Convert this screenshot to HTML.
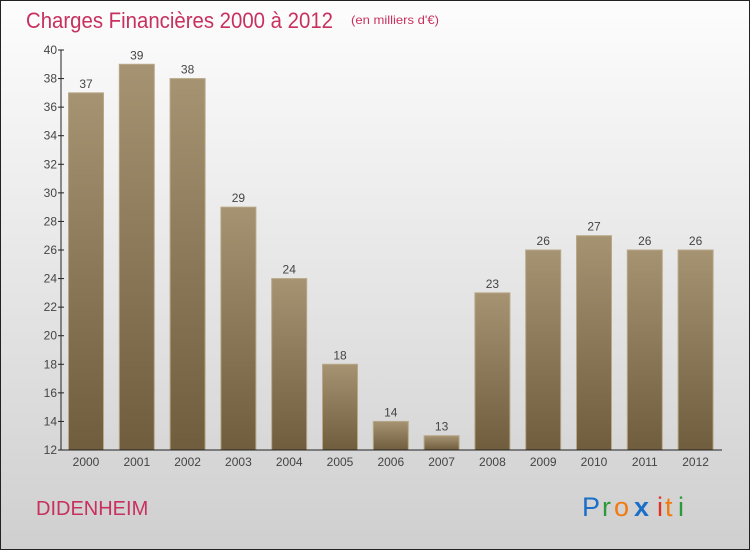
<!DOCTYPE html>
<html><head><meta charset="utf-8"><style>
body{margin:0;width:750px;height:550px;overflow:hidden;font-family:"Liberation Sans",sans-serif}
</style></head><body>
<svg id="chart" width="750" height="550" xmlns="http://www.w3.org/2000/svg">
<defs>
<linearGradient id="bg" x1="0" y1="0" x2="0" y2="1"><stop offset="0" stop-color="#fdfdfd"/><stop offset="1" stop-color="#cfcfcf"/></linearGradient>
<linearGradient id="bar" x1="0" y1="0" x2="0" y2="1"><stop offset="0" stop-color="#a59372"/><stop offset="1" stop-color="#6f5d3e"/></linearGradient>
</defs>
<rect x="0.5" y="0.5" width="749" height="549" fill="url(#bg)" stroke="#222"/>
<text x="26" y="28" font-size="22" fill="#c8305f" textLength="307" lengthAdjust="spacingAndGlyphs">Charges Financières 2000 à 2012</text>
<text x="351" y="24" font-size="12" fill="#c8305f" textLength="88" lengthAdjust="spacingAndGlyphs">(en milliers d'€)</text>
<g id="plot"></g>
<text x="36" y="515" font-size="20" fill="#c8305f">DIDENHEIM</text>
<g font-size="27">
<text x="582" y="516" fill="#1a6fc8">P</text><text x="602" y="516" fill="#2a9a3a">r</text><text x="614" y="516" fill="#f07a10">o</text><text x="634" y="516" fill="#1a6fc8" font-weight="bold">x</text><text x="657" y="516" fill="#e03020">i</text><text x="665" y="516" fill="#f07a10">t</text><text x="678" y="516" fill="#2a9a3a">i</text>
</g>
</svg>
<script>
const categories=["2000","2001","2002","2003","2004","2005","2006","2007","2008","2009","2010","2011","2012"];
const values=[37,39,38,29,24,18,14,13,23,26,27,26,26];
const yTicks=[12,14,16,18,20,22,24,26,28,30,32,34,36,38,40];
const NS="http://www.w3.org/2000/svg";
const g=document.getElementById('plot');
const yMin=12,yMax=40,y0=450,y1=50,x0=61,step=50.8,bw=35;
const y=v=>y0-(v-yMin)/(yMax-yMin)*(y0-y1);
const xc=i=>x0+25+i*step;
function mk(t,a,txt){const e=document.createElementNS(NS,t);for(const k in a)e.setAttribute(k,a[k]);if(txt!=null)e.textContent=txt;g.appendChild(e);return e;}
values.forEach((v,i)=>{
 const b=mk('rect',{x:xc(i)-bw/2,y:y(v),width:bw,height:y0-y(v),fill:'url(#bar)',stroke:'#b8a888','stroke-width':1});
 
 
 const l=mk('text',{x:xc(i),y:y(v)-5,'font-size':12,fill:'#444','text-anchor':'middle'},String(v));
 
 
 const c=mk('text',{x:xc(i),y:466,'font-size':12,fill:'#444','text-anchor':'middle'},categories[i]);
 
 
});
yTicks.forEach(t=>{
 const tk=mk('line',{x1:x0-3,x2:x0+3,y1:y(t),y2:y(t),stroke:'#222'});
 
 
 const l=mk('text',{x:x0-4,y:y(t)+4,'font-size':12,fill:'#444','text-anchor':'end'},String(t));
 
 
});
const ya=mk('line',{x1:x0,x2:x0,y1:y1,y2:y0,stroke:'#222'});


const xa=mk('line',{x1:x0,x2:722,y1:y0,y2:y0,stroke:'#222'});


</script>
</body></html>
